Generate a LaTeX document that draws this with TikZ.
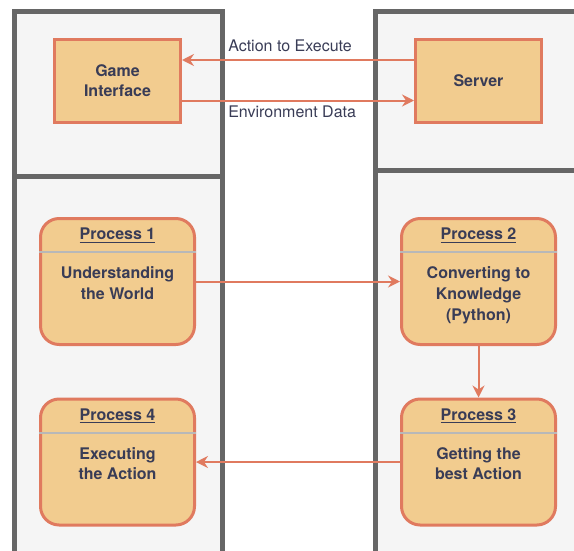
\documentclass[tikz,border=0pt]{standalone}
\usepackage{fontspec}
\setmainfont{TeX Gyre Heros}
\usetikzlibrary{arrows.meta,positioning,calc}

\definecolor{laneGray}{HTML}{666666}
\definecolor{laneFill}{HTML}{F5F5F5}
\definecolor{boxFill}{HTML}{F2CC8F}
\definecolor{boxLine}{HTML}{E07A5F}
\definecolor{inkText}{HTML}{393C56}
\definecolor{sepGray}{HTML}{B8B8B8}

\begin{document}
\begin{tikzpicture}[x=0.75pt,y=-0.75pt,
      lane/.style={draw=laneGray,fill=laneFill,line width=3.75pt},
      block/.style={draw=boxLine,fill=boxFill,line width=2.25pt,text=inkText,
        font=\fontsize{12pt}{15pt}\selectfont\bfseries,align=center,
        minimum width=94.5pt,minimum height=62.25pt,inner sep=0pt},
      proc/.style={draw=boxLine,fill=boxFill,line width=2.25pt,rounded corners=14pt,
        minimum width=115.5pt,minimum height=94.5pt,inner sep=0pt},
      head/.style={text=inkText,font=\fontsize{12pt}{15pt}\selectfont\bfseries,inner sep=0pt},
      body/.style={text=inkText,font=\fontsize{12pt}{15.5pt}\selectfont\bfseries,
        align=center,inner sep=0pt,anchor=north},
      sepline/.style={draw=sepGray,line width=1.5pt},
      flow/.style={draw=boxLine,line width=1.5pt,-{Stealth[length=9pt,width=9pt,inset=3pt]}},
      lbl/.style={text=inkText,font=\fontsize{12pt}{15pt}\selectfont,inner sep=0pt,anchor=west}]
  \useasboundingbox (0,0) rectangle (574,550);
  \clip (0,0) rectangle (574,550);

  % lanes
  \draw[lane] (14,11.5) rectangle (222,176);
  \draw[lane] (14,176) rectangle (222,600);
  \draw[lane] (375,11.5) rectangle (650,170.5);
  \draw[lane] (375,170.5) rectangle (650,600);

  % top row
  \node[block] (game) at (117.5,81) {Game\\Interface};
  \node[block] (server) at (478.5,81) {Server};

  \draw[flow] ($(server.west)+(0,-21)$) -- ($(game.east)+(0,-21)$);
  \draw[flow] ($(game.east)+(0,19.5)$) -- ($(server.west)+(0,19.5)$);
  \node[lbl] (actlbl) at (228,46) {Action to Execute};
  \node[lbl] (envlbl) at (228,112) {Environment Data};

  % processes
  \node[proc] (p1) at (117.5,281.5) {};
  \node[proc] (p2) at (478.5,281.5) {};
  \node[proc] (p3) at (478.5,462) {};
  \node[proc] (p4) at (117.5,462) {};

  \foreach \p/\n in {p1/1,p2/2,p3/3,p4/4}{
    \node[head] (\p head) at ($(\p.north)+(0,18.5)$) {\underline{Process \n}};
    \draw[sepline] ($(\p.north west)+(0,35)$) -- ($(\p.north east)+(0,35)$);
  }

  \node[body] (p1body) at ($(p1.north)+(0,49.5)$) {Understanding\\the World};
  \node[body] (p2body) at ($(p2.north)+(0,49.5)$) {Converting to\\Knowledge\\(Python)};
  \node[body] (p3body) at ($(p3.north)+(0,49.5)$) {Getting the\\best Action};
  \node[body] (p4body) at ($(p4.north)+(0,49.5)$) {Executing\\the Action};

  \draw[flow] (p1) -- (p2);
  \draw[flow] (p2) -- (p3);
  \draw[flow] (p3) -- (p4);
\end{tikzpicture}
\end{document}
